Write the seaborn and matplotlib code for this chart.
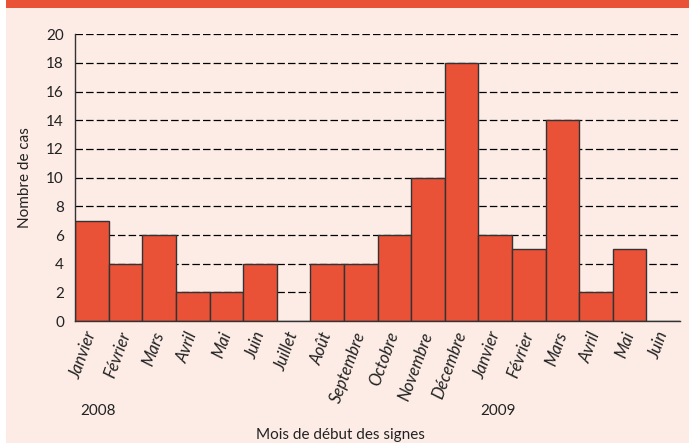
import numpy as np
import pandas as pd
import matplotlib
matplotlib.use("Agg")
import matplotlib.pyplot as plt
import seaborn as sns
from matplotlib.patches import Rectangle

# Données
mois = ["Janvier", "Février", "Mars", "Avril", "Mai", "Juin", "Juillet", "Août",
        "Septembre", "Octobre", "Novembre", "Décembre",
        "Janvier", "Février", "Mars", "Avril", "Mai", "Juin"]
cas = [7, 4, 6, 2, 2, 4, 0, 4, 4, 6, 10, 18, 6, 5, 14, 2, 5, 0]
annees = ["2008", "2009"]

fond = "#fcece5"
rouge = "#e95237"
texte = "#222222"

sns.set_style("white")
plt.rcParams["font.family"] = ["Lato", "DejaVu Sans"]

data = pd.DataFrame({"pos": range(len(mois)), "cas": cas})

fig = plt.figure(figsize=(6.89, 4.43), dpi=100, facecolor="white")
# fond rose avec petite marge blanche à gauche
fig.patches.append(Rectangle((6 / 689, 0), 1, 1, transform=fig.transFigure,
                             facecolor=fond, edgecolor="none", zorder=-10))
# bandeau rouge en haut
fig.patches.append(Rectangle((6 / 689, 1 - 8 / 443), 1, 8 / 443, transform=fig.transFigure,
                             facecolor=rouge, edgecolor="none", zorder=-9))

ax = fig.add_axes([0.109, 0.275, 0.878, 0.648])
ax.set_facecolor("none")

# grille pointillée derrière les barres
for v in range(2, 21, 2):
    ax.axhline(v, color="black", linestyle=(0, (6, 2.5)), linewidth=0.9, zorder=0)

sns.barplot(data=data, x="pos", y="cas", color=rouge, width=1.0, saturation=1,
            edgecolor="#333333", linewidth=1.0, ax=ax, zorder=2)

ax.set_ylim(0, 20)
ax.set_xlim(-0.5, len(mois) - 0.5)
ax.set_yticks(range(0, 21, 2))
ax.tick_params(axis="y", length=5, width=1, color="#333333", labelsize=11, pad=3, labelcolor=texte)
ax.tick_params(axis="x", length=0, pad=8)
ax.set_xticks(range(len(mois)))
ax.set_xticklabels(mois, rotation=70, ha="right", va="center", rotation_mode="anchor",
                   fontsize=12, style="italic", color=texte)

sns.despine(ax=ax, top=True, right=True)
for s in ["left", "bottom"]:
    ax.spines[s].set_color("#333333")
    ax.spines[s].set_linewidth(1.0)

ax.set_xlabel("")
ax.set_ylabel("Nombre de cas", fontsize=11, color=texte, labelpad=10)

fig.text(80 / 689, 1 - 411 / 443, annees[0], fontsize=11, color=texte, va="center")
fig.text(480 / 689, 1 - 411 / 443, annees[1], fontsize=11, color=texte, va="center")
fig.text(340 / 689, 1 - 435 / 443, "Mois de début des signes", fontsize=11,
         color=texte, ha="center", va="center")

fig.savefig("out.png", dpi=100, facecolor="white")
